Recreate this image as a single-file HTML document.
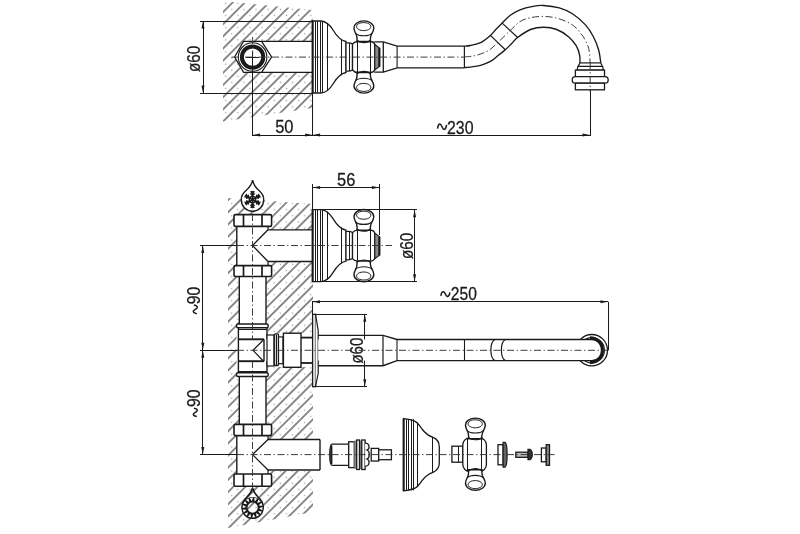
<!DOCTYPE html>
<html><head><meta charset="utf-8"><style>
html,body{margin:0;padding:0;background:#fff;width:800px;height:534px;overflow:hidden}
svg{display:block;will-change:transform}
text{font-family:"Liberation Sans",sans-serif;fill:#1a1a1a;stroke:#1a1a1a;stroke-width:0.3}
.cl{stroke:#333;stroke-width:0.95;stroke-dasharray:7 2.6 1.3 2.6}
</style></head><body>
<svg width="800" height="534" viewBox="0 0 800 534" stroke="#1a1a1a" fill="none">
<defs>
<pattern id="hatchA" patternUnits="userSpaceOnUse" width="8.6" height="8.6" patternTransform="translate(0.7,3.32) rotate(-45)">
<line x1="-1" y1="0" x2="10" y2="0" stroke="#000" stroke-width="0.9"/>
<line x1="-1" y1="8.6" x2="10" y2="8.6" stroke="#000" stroke-width="0.9"/>
<circle cx="4.3" cy="4.3" r="0.7" fill="#999" stroke="none"/>
</pattern>
<pattern id="hatchB" patternUnits="userSpaceOnUse" width="8.6" height="8.6" patternTransform="translate(0.08,2.42) rotate(-45)">
<line x1="-1" y1="0" x2="10" y2="0" stroke="#000" stroke-width="0.9"/>
<line x1="-1" y1="8.6" x2="10" y2="8.6" stroke="#000" stroke-width="0.9"/>
<circle cx="4.3" cy="4.94" r="0.7" fill="#999" stroke="none"/>
</pattern>
</defs>
<polygon points="223,1 312.6,10 312.6,108 223,121.5" fill="url(#hatchA)" stroke="none"/>
<polygon points="234.6,57 243.6,41.3 312.6,41.3 312.6,72.4 243.6,72.4" fill="#fff" stroke="none"/>
<polygon points="228,198 313,204 313,512 228,528" fill="url(#hatchB)" stroke="none"/>
<rect x="236.8" y="214" width="31.2" height="62.5" fill="#fff" stroke="none"/>
<rect x="239.3" y="276" width="26.7" height="48.5" fill="#fff" stroke="none"/>
<rect x="236.5" y="324" width="31.7" height="53" fill="#fff" stroke="none"/>
<rect x="239.3" y="376.5" width="26.7" height="48.5" fill="#fff" stroke="none"/>
<rect x="236.8" y="424" width="31.2" height="62.5" fill="#fff" stroke="none"/>
<rect x="268" y="230" width="45" height="32" fill="#fff" stroke="none"/>
<rect x="265" y="333" width="48" height="34" fill="#fff" stroke="none"/>
<rect x="268" y="439" width="45" height="32" fill="#fff" stroke="none"/>
<path d="M312.6,21 L321,21 C327,21.5 330,25 333,30 C336,35 340,40.5 346,41.5 L346,72.5 C340,73.5 336,79 333,84 C330,89 327,92.5 321,93 L312.6,93 Z" stroke-width="1.3" fill="#fff" />
<line x1="312.6" y1="20.5" x2="312.6" y2="93.5" stroke-width="2.0"/>
<line x1="315.5" y1="21.5" x2="315.5" y2="92.5" stroke-width="1.0"/>
<line x1="317.5" y1="21.5" x2="317.5" y2="92.5" stroke-width="1.0"/>
<line x1="320.5" y1="21.5" x2="320.5" y2="92.5" stroke-width="1.0"/>
<line x1="322.5" y1="21.5" x2="322.5" y2="92.5" stroke-width="1.0"/>
<line x1="327.5" y1="23" x2="327.5" y2="91" stroke-width="1.0"/>
<line x1="341.5" y1="38.8" x2="341.5" y2="75.2" stroke-width="1.0"/>
<path d="M346,43 C349,42.5 351,43 352.5,44 L352.5,70 C351,71 349,71.5 346,71 Z" stroke-width="1.2" fill="#fff" />
<line x1="349.5" y1="43" x2="349.5" y2="71" stroke-width="1.0"/>
<path d="M352.5,44 C354,42 356,41.5 358,41.5 L370,41.5 C372.5,41.5 374.3,42.5 374.8,44.5 L374.8,69.5 C374.3,71.5 372.5,72.5 370,72.5 L358,72.5 C356,72.5 354,72 352.5,70 Z" stroke-width="1.3" fill="#fff" />
<line x1="357.5" y1="42" x2="357.5" y2="72" stroke-width="1.0"/>
<line x1="370.5" y1="42" x2="370.5" y2="72" stroke-width="1.0"/>
<path d="M374.8,44.5 L379.8,48.3 L379.8,66.3 L374.8,70 Z" stroke-width="1.1" fill="#8a8a8a" />
<line x1="379.2" y1="48" x2="379.2" y2="66.6" stroke-width="1.9"/>
<path d="M354,28.2 C354,24 358.5,20.9 363.9,20.9 C369.3,20.9 373.8,24 373.8,28.2 C373.7,30.8 372.2,33.2 371,35.4 C370.3,37.5 370.2,39.5 370.4,41.5 L357,41.5 C357.2,39.5 357.1,37.5 356.6,35.4 C355.6,33.2 354.1,30.8 354,28.2 Z" stroke-width="1.4" fill="#fff" />
<path d="M356.6,26.6 C356.6,24.2 359.8,22.6 363.7,22.6 C367.6,22.6 370.8,24.2 370.8,26.6 C370.8,29 367.6,30.6 363.7,30.6 C359.8,30.6 356.6,29 356.6,26.6 Z" stroke-width="1.0" fill="none" />
<path d="M355.6,33.4 C359,36.6 368.5,36.6 371.9,33.4" stroke-width="1.1" fill="none" />
<path d="M357,40.2 C360,43.4 367.5,43.4 370.4,40.2" stroke-width="1.1" fill="none" />
<path d="M354,85.8 C354,90 358.5,93.1 363.9,93.1 C369.3,93.1 373.8,90 373.8,85.8 C373.7,83.2 372.2,80.8 371,78.6 C370.3,76.5 370.2,74.5 370.4,72.5 L357,72.5 C357.2,74.5 357.1,76.5 356.6,78.6 C355.6,80.8 354.1,83.2 354,85.8 Z" stroke-width="1.4" fill="#fff" />
<path d="M356.6,87.4 C356.6,89.8 359.8,91.4 363.7,91.4 C367.6,91.4 370.8,89.8 370.8,87.4 C370.8,85 367.6,83.4 363.7,83.4 C359.8,83.4 356.6,85 356.6,87.4 Z" stroke-width="1.0" fill="none" />
<path d="M355.6,80.6 C359,77.4 368.5,77.4 371.9,80.6" stroke-width="1.1" fill="none" />
<path d="M357,73.8 C360,70.6 367.5,70.6 370.4,73.8" stroke-width="1.1" fill="none" />
<path d="M312.6,209.6 L321,209.6 C327,210.1 330,213.6 333,218.6 C336,223.6 340,229.1 346,230.1 L346,261.1 C340,262.1 336,267.6 333,272.6 C330,277.6 327,281.1 321,281.6 L312.6,281.6 Z" stroke-width="1.3" fill="#fff" />
<line x1="312.6" y1="209.1" x2="312.6" y2="282.1" stroke-width="2.0"/>
<line x1="315.5" y1="210.1" x2="315.5" y2="281.1" stroke-width="1.0"/>
<line x1="317.5" y1="210.1" x2="317.5" y2="281.1" stroke-width="1.0"/>
<line x1="320.5" y1="210.1" x2="320.5" y2="281.1" stroke-width="1.0"/>
<line x1="322.5" y1="210.1" x2="322.5" y2="281.1" stroke-width="1.0"/>
<line x1="327.5" y1="211.6" x2="327.5" y2="279.6" stroke-width="1.0"/>
<line x1="341.5" y1="227.4" x2="341.5" y2="263.8" stroke-width="1.0"/>
<path d="M346,231.6 C349,231.1 351,231.6 352.5,232.6 L352.5,258.6 C351,259.6 349,260.1 346,259.6 Z" stroke-width="1.2" fill="#fff" />
<line x1="349.5" y1="231.6" x2="349.5" y2="259.6" stroke-width="1.0"/>
<path d="M352.5,232.6 C354,230.6 356,230.1 358,230.1 L370,230.1 C372.5,230.1 374.3,231.1 374.8,233.1 L374.8,258.1 C374.3,260.1 372.5,261.1 370,261.1 L358,261.1 C356,261.1 354,260.6 352.5,258.6 Z" stroke-width="1.3" fill="#fff" />
<line x1="357.5" y1="230.6" x2="357.5" y2="260.6" stroke-width="1.0"/>
<line x1="370.5" y1="230.6" x2="370.5" y2="260.6" stroke-width="1.0"/>
<path d="M374.8,233.1 L379.8,236.9 L379.8,254.9 L374.8,258.6 Z" stroke-width="1.1" fill="#8a8a8a" />
<line x1="379.2" y1="236.6" x2="379.2" y2="255.2" stroke-width="1.9"/>
<path d="M354,216.8 C354,212.6 358.5,209.5 363.9,209.5 C369.3,209.5 373.8,212.6 373.8,216.8 C373.7,219.4 372.2,221.8 371,224.0 C370.3,226.1 370.2,228.1 370.4,230.1 L357,230.1 C357.2,228.1 357.1,226.1 356.6,224.0 C355.6,221.8 354.1,219.4 354,216.8 Z" stroke-width="1.4" fill="#fff" />
<path d="M356.6,215.2 C356.6,212.8 359.8,211.2 363.7,211.2 C367.6,211.2 370.8,212.8 370.8,215.2 C370.8,217.6 367.6,219.2 363.7,219.2 C359.8,219.2 356.6,217.6 356.6,215.2 Z" stroke-width="1.0" fill="none" />
<path d="M355.6,222.0 C359,225.2 368.5,225.2 371.9,222.0" stroke-width="1.1" fill="none" />
<path d="M357,228.8 C360,232.0 367.5,232.0 370.4,228.8" stroke-width="1.1" fill="none" />
<path d="M354,274.4 C354,278.6 358.5,281.7 363.9,281.7 C369.3,281.7 373.8,278.6 373.8,274.4 C373.7,271.8 372.2,269.4 371,267.2 C370.3,265.1 370.2,263.1 370.4,261.1 L357,261.1 C357.2,263.1 357.1,265.1 356.6,267.2 C355.6,269.4 354.1,271.8 354,274.4 Z" stroke-width="1.4" fill="#fff" />
<path d="M356.6,276.0 C356.6,278.4 359.8,280.0 363.7,280.0 C367.6,280.0 370.8,278.4 370.8,276.0 C370.8,273.6 367.6,272.0 363.7,272.0 C359.8,272.0 356.6,273.6 356.6,276.0 Z" stroke-width="1.0" fill="none" />
<path d="M355.6,269.2 C359,266.0 368.5,266.0 371.9,269.2" stroke-width="1.1" fill="none" />
<path d="M357,262.4 C360,259.2 367.5,259.2 370.4,262.4" stroke-width="1.1" fill="none" />
<polygon points="234.6,57 243.6,41.3 261.6,41.3 271.6,57 261.6,72.4 243.6,72.4" fill="#fff" stroke-width="1.3"/>
<line x1="261.6" y1="41.3" x2="312.6" y2="41.3" stroke-width="1.3"/>
<line x1="261.6" y1="72.4" x2="312.6" y2="72.4" stroke-width="1.3"/>
<circle cx="252.6" cy="57.1" r="14.3" stroke-width="1.1" fill="#fff"/>
<circle cx="252.6" cy="57.1" r="10.7" stroke-width="4" fill="#fff"/>
<line x1="246.3" y1="57.5" x2="258.9" y2="57.5" stroke-width="1.0"/>
<line x1="252.5" y1="51.3" x2="252.5" y2="62.9" stroke-width="1.0"/>
<path d="M374.3,41.9 L383.3,41.9 L397.1,46.2 L464.5,46.2 M374.3,72.2 L383.3,72.2 L397.1,67.8 L464.5,67.8" stroke-width="1.3" fill="none" />
<line x1="383.3" y1="41.9" x2="383.3" y2="72.2" stroke-width="1.3"/>
<line x1="397.1" y1="46.2" x2="397.1" y2="67.8" stroke-width="1.1"/>
<line x1="464.4" y1="46.2" x2="464.4" y2="67.8" stroke-width="1.2"/>
<path d="M464.3,46.2 C465.30,46.08 467.58,46.10 470.30,45.50 C473.02,44.90 477.25,44.28 480.60,42.60 C483.95,40.92 487.83,37.62 490.40,35.40 C492.97,33.18 494.03,31.35 496.00,29.30 C497.97,27.25 499.87,25.40 502.20,23.10 C504.53,20.80 507.03,17.72 510.00,15.50 C512.97,13.28 516.15,11.33 520.00,9.80 C523.85,8.27 529.17,7.02 533.10,6.30 C537.03,5.58 539.23,5.23 543.60,5.50 C547.97,5.77 554.50,6.52 559.30,7.90 C564.10,9.28 568.03,10.97 572.40,13.80 C576.77,16.63 582.00,21.08 585.50,24.90 C589.00,28.72 591.22,32.55 593.40,36.70 C595.58,40.85 597.37,45.43 598.60,49.80 C599.83,54.17 600.43,60.72 600.80,62.90" stroke-width="1.35" fill="none" />
<path d="M464.3,67.5 C465.30,67.43 467.58,67.47 470.30,67.10 C473.02,66.73 477.17,66.28 480.60,65.30 C484.03,64.32 487.98,62.83 490.90,61.20 C493.82,59.57 495.70,57.40 498.10,55.50 C500.50,53.60 503.07,51.77 505.30,49.80 C507.53,47.83 509.45,45.75 511.50,43.70 C513.55,41.65 514.43,39.87 517.60,37.50 C520.77,35.13 526.17,31.22 530.50,29.50 C534.83,27.78 539.23,27.20 543.60,27.20 C547.97,27.20 552.55,27.92 556.70,29.50 C560.85,31.08 565.23,33.97 568.50,36.70 C571.77,39.43 574.45,42.85 576.30,45.90 C578.15,48.95 578.98,52.17 579.60,55.00 C580.22,57.83 579.93,61.58 580.00,62.90" stroke-width="1.35" fill="none" />
<line x1="490.4" y1="35.4" x2="505.3" y2="49.8" stroke-width="1.2"/>
<line x1="502.2" y1="23.1" x2="517.6" y2="37.5" stroke-width="1.2"/>
<line x1="580" y1="62.9" x2="600.8" y2="62.9" stroke-width="1.2"/>
<path d="M580,62.9 L578,66.4 L602.5,66.4 L600.8,62.9" stroke-width="1.2" fill="none" />
<path d="M578,66.4 L577,70.1 L603.5,70.1 L602.5,66.4" stroke-width="1.2" fill="none" />
<rect x="575.4" y="70.1" width="29.1" height="6.6" rx="0" stroke-width="1.3" fill="#fff" />
<rect x="572.2" y="76.7" width="36" height="6.5" rx="3.2" stroke-width="1.3" fill="#fff" />
<rect x="575.4" y="83.2" width="29.1" height="6.6" rx="0" stroke-width="1.3" fill="#fff" />
<line x1="200" y1="21.5" x2="312.6" y2="21.5" stroke-width="1.0"/>
<line x1="200" y1="93.5" x2="312.6" y2="93.5" stroke-width="1.0"/>
<line x1="203.5" y1="21" x2="203.5" y2="93" stroke-width="1.0"/>
<polygon points="203,21 201.5,28.5 204.5,28.5" fill="#1a1a1a" stroke="none"/>
<polygon points="203,93 201.5,85.5 204.5,85.5" fill="#1a1a1a" stroke="none"/>
<text x="200.4" y="72.00" font-size="19" transform="rotate(-90 200.4 72.00)" textLength="26.40" lengthAdjust="spacingAndGlyphs">ø60</text>
<line x1="252.5" y1="57" x2="252.5" y2="136" stroke-width="1.0"/>
<line x1="312.5" y1="93" x2="312.5" y2="136" stroke-width="1.0"/>
<line x1="590.5" y1="90" x2="590.5" y2="136" stroke-width="1.0"/>
<line x1="252.6" y1="135.5" x2="590" y2="135.5" stroke-width="1.0"/>
<polygon points="252.6,135 260.1,133.5 260.1,136.5" fill="#1a1a1a" stroke="none"/>
<polygon points="312.6,135 305.1,133.5 305.1,136.5" fill="#1a1a1a" stroke="none"/>
<polygon points="312.6,135 320.1,133.5 320.1,136.5" fill="#1a1a1a" stroke="none"/>
<polygon points="590,135 582.5,133.5 582.5,136.5" fill="#1a1a1a" stroke="none"/>
<text x="275.20" y="133" font-size="19" textLength="18.30" lengthAdjust="spacingAndGlyphs">50</text>
<text x="447.00" y="133.5" font-size="19" textLength="26.50" lengthAdjust="spacingAndGlyphs">230</text>
<path d="M437.50,128.70 C437.95,124.80 439.30,123.50 440.47,124.28 C441.55,125.12 442.45,128.38 443.53,129.22 C444.70,130.00 446.05,128.70 446.50,124.80" stroke-width="1.5" fill="none" />
<line x1="236.8" y1="226.4" x2="236.8" y2="265.6" stroke-width="1.4"/>
<path d="M268,229.8 L252.5,245.5 L268,261.5" stroke-width="1.3" fill="none" />
<line x1="268" y1="229.8" x2="312.6" y2="229.8" stroke-width="1.3"/>
<line x1="268" y1="261.5" x2="312.6" y2="261.5" stroke-width="1.3"/>
<line x1="268" y1="226.4" x2="268" y2="229.8" stroke-width="1.2"/>
<line x1="268" y1="261.5" x2="268" y2="265.6" stroke-width="1.2"/>
<rect x="234" y="214.6" width="37.6" height="11.800000000000011" rx="1.5" stroke-width="1.6" fill="#fff" />
<line x1="243.5" y1="214.6" x2="243.5" y2="226.4" stroke-width="1.7"/>
<line x1="262" y1="214.6" x2="262" y2="226.4" stroke-width="1.7"/>
<rect x="234" y="265.6" width="37.6" height="10.899999999999977" rx="1.5" stroke-width="1.6" fill="#fff" />
<line x1="243.5" y1="265.6" x2="243.5" y2="276.5" stroke-width="1.7"/>
<line x1="262" y1="265.6" x2="262" y2="276.5" stroke-width="1.7"/>
<rect x="234" y="424.4" width="37.6" height="11.200000000000045" rx="1.5" stroke-width="1.6" fill="#fff" />
<line x1="243.5" y1="424.4" x2="243.5" y2="435.6" stroke-width="1.7"/>
<line x1="262" y1="424.4" x2="262" y2="435.6" stroke-width="1.7"/>
<rect x="234" y="474" width="37.6" height="12.199999999999989" rx="1.5" stroke-width="1.6" fill="#fff" />
<line x1="243.5" y1="474" x2="243.5" y2="486.2" stroke-width="1.7"/>
<line x1="262" y1="474" x2="262" y2="486.2" stroke-width="1.7"/>
<line x1="239.3" y1="276.5" x2="239.3" y2="324" stroke-width="1.4"/>
<line x1="266" y1="276.5" x2="266" y2="324" stroke-width="1.4"/>
<line x1="239.3" y1="376.6" x2="239.3" y2="424.4" stroke-width="1.4"/>
<line x1="266" y1="376.6" x2="266" y2="424.4" stroke-width="1.4"/>
<rect x="236.5" y="324" width="31.7" height="3.7" rx="1.5" stroke-width="1.4" fill="#fff" />
<rect x="236.5" y="372.8" width="31.7" height="3.7" rx="1.5" stroke-width="1.4" fill="#fff" />
<line x1="238.4" y1="327.7" x2="238.4" y2="372.8" stroke-width="1.4"/>
<line x1="267" y1="327.7" x2="267" y2="339.3" stroke-width="1.4"/>
<line x1="267" y1="361.2" x2="267" y2="372.8" stroke-width="1.4"/>
<line x1="238.4" y1="329.5" x2="267" y2="329.5" stroke-width="1.0"/>
<line x1="238.4" y1="371.5" x2="267" y2="371.5" stroke-width="1.0"/>
<line x1="238.4" y1="339.3" x2="264" y2="339.3" stroke-width="1.9"/>
<line x1="238.4" y1="361.2" x2="264" y2="361.2" stroke-width="1.9"/>
<line x1="264" y1="339.3" x2="264" y2="361.2" stroke-width="1.4"/>
<path d="M263.3,340 L253,350.3 L263.3,361" stroke-width="1.2" fill="none" />
<rect x="267" y="335" width="7" height="31" rx="0" stroke-width="1.2" fill="#fff" />
<rect x="274.3" y="333.8" width="4.2" height="31.7" rx="1" stroke-width="1.3" fill="#fff" />
<line x1="276.4" y1="334.5" x2="276.4" y2="365" stroke-width="1.2"/>
<rect x="278.5" y="336.9" width="4.5" height="26.8" rx="0" stroke-width="1.2" fill="#fff" />
<rect x="283.4" y="333.2" width="17.6" height="34.1" rx="0" stroke-width="1.4" fill="#fff" />
<line x1="301" y1="337.6" x2="312.6" y2="337.6" stroke-width="1.8"/>
<line x1="301" y1="363" x2="312.6" y2="363" stroke-width="1.8"/>
<line x1="236.8" y1="435.6" x2="236.8" y2="474" stroke-width="1.4"/>
<path d="M268,439.5 L252.5,454.6 L268,470" stroke-width="1.3" fill="none" />
<line x1="268" y1="439.5" x2="320" y2="439.5" stroke-width="1.3"/>
<line x1="268" y1="470" x2="320" y2="470" stroke-width="1.3"/>
<line x1="320" y1="439.5" x2="320" y2="470" stroke-width="1.4"/>
<line x1="268" y1="435.6" x2="268" y2="439.5" stroke-width="1.2"/>
<line x1="268" y1="470" x2="268" y2="474" stroke-width="1.2"/>
<line x1="200" y1="245.5" x2="237" y2="245.5" stroke-width="1.0"/>
<line x1="200" y1="350.5" x2="238" y2="350.5" stroke-width="1.0"/>
<line x1="200" y1="454.5" x2="237" y2="454.5" stroke-width="1.0"/>
<line x1="202.5" y1="245.5" x2="202.5" y2="454.6" stroke-width="1.0"/>
<polygon points="202.8,245.5 201.3,253.0 204.3,253.0" fill="#1a1a1a" stroke="none"/>
<polygon points="202.8,350.3 201.3,342.8 204.3,342.8" fill="#1a1a1a" stroke="none"/>
<polygon points="202.8,350.3 201.3,357.8 204.3,357.8" fill="#1a1a1a" stroke="none"/>
<polygon points="202.8,454.6 201.3,447.1 204.3,447.1" fill="#1a1a1a" stroke="none"/>
<text x="200.4" y="304.30" font-size="19" transform="rotate(-90 200.4 304.30)" textLength="17.50" lengthAdjust="spacingAndGlyphs">90</text>
<path d="M196.78,313.75 C193.87,313.32 192.90,312.02 193.48,310.90 C194.11,309.86 196.54,308.99 197.17,307.95 C197.75,306.83 196.78,305.53 193.87,305.10" stroke-width="1.5" fill="none" />
<text x="200.4" y="407.10" font-size="19" transform="rotate(-90 200.4 407.10)" textLength="17.50" lengthAdjust="spacingAndGlyphs">90</text>
<path d="M196.78,416.50 C193.87,416.09 192.90,414.85 193.48,413.78 C194.11,412.79 196.54,411.96 197.17,410.97 C197.75,409.90 196.78,408.66 193.87,408.25" stroke-width="1.5" fill="none" />
<line x1="312.5" y1="184" x2="312.5" y2="210" stroke-width="1.0"/>
<line x1="379.5" y1="184" x2="379.5" y2="235" stroke-width="1.0"/>
<line x1="312.6" y1="187.5" x2="379.3" y2="187.5" stroke-width="1.0"/>
<polygon points="312.6,187.5 320.1,186.0 320.1,189.0" fill="#1a1a1a" stroke="none"/>
<polygon points="379.3,187.5 371.8,186.0 371.8,189.0" fill="#1a1a1a" stroke="none"/>
<text x="337.00" y="185.8" font-size="19" textLength="18.30" lengthAdjust="spacingAndGlyphs">56</text>
<line x1="320" y1="209.5" x2="417" y2="209.5" stroke-width="1.0"/>
<line x1="320" y1="281.5" x2="417" y2="281.5" stroke-width="1.0"/>
<line x1="414.5" y1="209.7" x2="414.5" y2="281.7" stroke-width="1.0"/>
<polygon points="414.6,209.7 413.1,217.2 416.1,217.2" fill="#1a1a1a" stroke="none"/>
<polygon points="414.6,281.7 413.1,274.2 416.1,274.2" fill="#1a1a1a" stroke="none"/>
<text x="413" y="259.00" font-size="19" transform="rotate(-90 413 259.00)" textLength="26.40" lengthAdjust="spacingAndGlyphs">ø60</text>
<line x1="312.5" y1="301" x2="312.5" y2="314.3" stroke-width="1.0"/>
<line x1="312.5" y1="301.5" x2="608" y2="301.5" stroke-width="1.0"/>
<polygon points="312.5,301.8 320.0,300.3 320.0,303.3" fill="#1a1a1a" stroke="none"/>
<polygon points="608,301.8 600.5,300.3 600.5,303.3" fill="#1a1a1a" stroke="none"/>
<line x1="608.5" y1="301.8" x2="608.5" y2="350" stroke-width="1.0"/>
<text x="450.80" y="299.9" font-size="19" textLength="26.00" lengthAdjust="spacingAndGlyphs">250</text>
<path d="M440.90,295.78 C441.35,292.42 442.70,291.30 443.87,291.97 C444.95,292.70 445.85,295.50 446.93,296.23 C448.10,296.90 449.45,295.78 449.90,292.42" stroke-width="1.5" fill="none" />
<rect x="312.6" y="314.3" width="2.9" height="72.4" rx="0" stroke-width="1.3" fill="#fff" />
<path d="M315.5,314.3 L318.2,330.3 L318.2,373.3 L315.5,386.7" stroke-width="1.2" fill="#fff" />
<line x1="315.5" y1="314.5" x2="367" y2="314.5" stroke-width="1.0"/>
<line x1="315.5" y1="386.5" x2="367" y2="386.5" stroke-width="1.0"/>
<line x1="364.5" y1="314.3" x2="364.5" y2="386.7" stroke-width="1.0"/>
<polygon points="364.8,314.3 363.3,321.8 366.3,321.8" fill="#1a1a1a" stroke="none"/>
<polygon points="364.8,386.7 363.3,379.2 366.3,379.2" fill="#1a1a1a" stroke="none"/>
<circle cx="591.8" cy="350.2" r="15.7" stroke-width="1.3" fill="#fff"/>
<circle cx="591.8" cy="350.2" r="12.6" stroke-width="1.2" fill="none"/>
<path d="M590,337.8 A12.3,12.3 0 0 1 590,362.6" stroke-width="3.2" fill="none" />
<rect x="318.2" y="339.5" width="274" height="21.1" fill="#fff" stroke="none"/>
<path d="M318.2,335.3 L383,335.3 L397,339.5 L592,339.5 A10.55,10.55 0 0 1 592,360.6 L397,360.6 L383,365.7 L318.2,365.7" stroke-width="1.35" fill="none" />
<line x1="383" y1="335.3" x2="383" y2="365.7" stroke-width="1.2"/>
<line x1="397" y1="339.5" x2="397" y2="360.6" stroke-width="1.1"/>
<line x1="464.5" y1="339.5" x2="464.5" y2="360.6" stroke-width="1.1"/>
<path d="M495,339.5 C489.5,342 489.5,358 495,360.6" stroke-width="1.2" fill="none" />
<path d="M505.5,339.5 C500,342 500,358 505.5,360.6" stroke-width="1.2" fill="none" />
<text x="363" y="363.60" font-size="19" transform="rotate(-90 363 363.60)" textLength="26.00" lengthAdjust="spacingAndGlyphs">ø60</text>
<path d="M332,444.2 L348.7,444.2 L348.7,465.3 L332,465.3 C329,465 329,444.5 332,444.2 Z" stroke-width="1.3" fill="#fff" />
<line x1="331.3" y1="445.5" x2="331.3" y2="464" stroke-width="2.2"/>
<rect x="348.7" y="441.8" width="5.6" height="25.8" rx="0" stroke-width="1.3" fill="#fff" />
<rect x="354.3" y="440.5" width="11" height="28.5" fill="#888" stroke="none"/>
<rect x="356.7" y="440" width="2.8" height="29.5" rx="0" stroke-width="1.3" fill="#fff" />
<rect x="361.8" y="440" width="3.3" height="29.5" rx="0" stroke-width="1.3" fill="#fff" />
<path d="M365.1,443.2 C370,443.2 370,449 367,450 C370,451 370,458 367,459 C370,460 370,466.2 365.1,466.2" stroke-width="1.3" fill="#fff" />
<rect x="371.2" y="448.4" width="7.5" height="12.6" rx="0" stroke-width="1.3" fill="#fff" />
<rect x="378.7" y="449.8" width="12.7" height="9.9" rx="0" stroke-width="1.3" fill="#fff" />
<path d="M403.6,418.7 C408,419.2 412,420 415,421.4 C418,423 420,426 422,429 C425,433 429,436 433,437.3 C437,438.8 439.3,442 439.3,447 L439.3,462.6 C439.3,467.6 437,470.8 433,472.3 C429,473.6 425,476.6 422,480.6 C420,483.6 418,486.6 415,488.2 C412,489.6 408,490.4 403.6,490.9 Z" stroke-width="1.3" fill="#fff" />
<line x1="403.6" y1="418.5" x2="403.6" y2="491" stroke-width="2.0"/>
<line x1="406.5" y1="419.2" x2="406.5" y2="490.4" stroke-width="1.0"/>
<line x1="408.5" y1="419.2" x2="408.5" y2="490.4" stroke-width="1.0"/>
<line x1="411.5" y1="419.2" x2="411.5" y2="490.4" stroke-width="1.0"/>
<line x1="413.5" y1="419.2" x2="413.5" y2="490.4" stroke-width="1.0"/>
<line x1="417.5" y1="422.5" x2="417.5" y2="487" stroke-width="1.0"/>
<line x1="432.5" y1="437" x2="432.5" y2="472.6" stroke-width="1.0"/>
<rect x="451.9" y="446.2" width="11" height="16" rx="0" stroke-width="1.3" fill="#fff" />
<line x1="458.5" y1="446.2" x2="458.5" y2="462.2" stroke-width="1.0"/>
<rect x="462.8" y="437.8" width="23.6" height="33.7" rx="7" stroke-width="1.3" fill="#fff" />
<line x1="467.5" y1="438.5" x2="467.5" y2="471" stroke-width="1.0"/>
<line x1="481.5" y1="438.5" x2="481.5" y2="471" stroke-width="1.0"/>
<path d="M465.5,425.4 C465.5,421.2 470.0,418.1 475.4,418.1 C480.8,418.1 485.3,421.2 485.3,425.4 C485.2,428.0 483.7,430.4 482.5,432.6 C481.8,434.7 481.7,436.7 481.9,438.7 L468.5,438.7 C468.7,436.7 468.6,434.7 468.1,432.6 C467.1,430.4 465.6,428.0 465.5,425.4 Z" stroke-width="1.4" fill="#fff" />
<path d="M468.1,423.8 C468.1,421.4 471.3,419.8 475.2,419.8 C479.1,419.8 482.3,421.4 482.3,423.8 C482.3,426.2 479.1,427.8 475.2,427.8 C471.3,427.8 468.1,426.2 468.1,423.8 Z" stroke-width="1.0" fill="none" />
<path d="M467.1,430.6 C470.5,433.8 480.0,433.8 483.4,430.6" stroke-width="1.1" fill="none" />
<path d="M468.5,437.4 C471.5,440.6 479.0,440.6 481.9,437.4" stroke-width="1.1" fill="none" />
<path d="M465.5,483.0 C465.5,487.2 470.0,490.3 475.4,490.3 C480.8,490.3 485.3,487.2 485.3,483.0 C485.2,480.4 483.7,478.0 482.5,475.8 C481.8,473.7 481.7,471.7 481.9,469.7 L468.5,469.7 C468.7,471.7 468.6,473.7 468.1,475.8 C467.1,478.0 465.6,480.4 465.5,483.0 Z" stroke-width="1.4" fill="#fff" />
<path d="M468.1,484.6 C468.1,487.0 471.3,488.6 475.2,488.6 C479.1,488.6 482.3,487.0 482.3,484.6 C482.3,482.2 479.1,480.6 475.2,480.6 C471.3,480.6 468.1,482.2 468.1,484.6 Z" stroke-width="1.0" fill="none" />
<path d="M467.1,477.8 C470.5,474.6 480.0,474.6 483.4,477.8" stroke-width="1.1" fill="none" />
<path d="M468.5,471.0 C471.5,467.8 479.0,467.8 481.9,471.0" stroke-width="1.1" fill="none" />
<rect x="498" y="444.7" width="5.1" height="20.1" rx="0" stroke-width="1.3" fill="#fff" />
<path d="M503.1,442.3 L505,442.3 C507.8,444 507.8,465.5 505,467.2 L503.1,467.2 Z" stroke-width="1.2" fill="#666" />
<rect x="515.8" y="452.2" width="12.2" height="5.1" rx="0" stroke-width="1.3" fill="#bbb" />
<path d="M528,449.3 L530,449.3 C533,451 533,458 530,459.7 L528,459.7 Z" stroke-width="1.2" fill="#333" />
<rect x="541.4" y="448" width="4.8" height="13.8" rx="0" stroke-width="1.3" fill="#fff" />
<rect x="546.2" y="444.7" width="3.3" height="20.6" rx="0" stroke-width="1.3" fill="#888" />
<path d="M252.6,180.2 C253.5,185 256,188 259,190.5 C262.5,193.5 263.9,196.5 263.7,200 A11.2,11.2 0 1 1 241.3,200 C241.1,196.5 242.5,193.5 246,190.5 C249,188 251.7,185 252.6,180.2 Z" fill="#fff" stroke-width="1.4"/>
<path d="M252.5,199.6 L252.50,191.00 M252.50,195.73 L250.44,193.28 M252.50,195.73 L254.56,193.28 M252.50,193.41 L250.70,191.26 M252.50,193.41 L254.30,191.26 M252.5,199.6 L245.05,195.30 M249.15,197.66 L246.00,198.22 M249.15,197.66 L248.05,194.66 M247.14,196.50 L244.38,196.99 M247.14,196.50 L246.18,193.87 M252.5,199.6 L245.05,203.90 M249.15,201.53 L248.05,204.54 M249.15,201.53 L246.00,200.98 M247.14,202.70 L246.18,205.33 M247.14,202.70 L244.38,202.21 M252.5,199.6 L252.50,208.20 M252.50,203.47 L254.56,205.92 M252.50,203.47 L250.44,205.92 M252.50,205.79 L254.30,207.94 M252.50,205.79 L250.70,207.94 M252.5,199.6 L259.95,203.90 M255.85,201.53 L259.00,200.98 M255.85,201.53 L256.95,204.54 M257.86,202.70 L260.62,202.21 M257.86,202.70 L258.82,205.33 M252.5,199.6 L259.95,195.30 M255.85,197.66 L256.95,194.66 M255.85,197.66 L259.00,198.22 M257.86,196.50 L258.82,193.87 M257.86,196.50 L260.62,196.99" stroke-width="1.35" fill="none"/>
<circle cx="252.5" cy="199.6" r="3.2" fill="none" stroke-width="1.5"/>
<circle cx="252.5" cy="199.6" r="1.6" fill="#1a1a1a" stroke="none"/>
<path d="M252.6,488 C253.5,492 256,495 258,497 C261.5,500 263.3,503 263.2,507.6 A10.6,10.6 0 1 1 242,507.6 C241.9,503 243.7,500 247,497 C249,495 251.7,492 252.6,488 Z" fill="none" stroke-width="1.6"/>
<circle cx="252.6" cy="507.6" r="7.9" stroke="#1a1a1a" stroke-width="5.6" fill="none"/>
<path d="M262.59,507.08 L258.96,508.27 L262.26,510.19 Z M261.82,511.46 L258.04,510.96 L260.18,514.12 Z M259.24,515.08 L256.05,512.99 L256.60,516.77 Z M255.33,517.22 L253.36,513.95 L252.23,517.59 Z M250.89,517.45 L250.53,513.66 L247.93,516.44 Z M246.78,515.73 L248.11,512.16 L244.55,513.54 Z M243.83,512.40 L246.58,509.76 L242.77,509.46 Z M242.61,508.12 L246.24,506.93 L242.94,505.01 Z M243.38,503.74 L247.16,504.24 L245.02,501.08 Z M245.96,500.12 L249.15,502.21 L248.60,498.43 Z M249.87,497.98 L251.84,501.25 L252.97,497.61 Z M254.31,497.75 L254.67,501.54 L257.27,498.76 Z M258.42,499.47 L257.09,503.04 L260.65,501.66 Z M261.37,502.80 L258.62,505.44 L262.43,505.74 Z" fill="#fff" stroke="none"/>
<path d="M464.3,56.9 C465.58,56.78 469.28,56.68 472.00,56.20 C474.72,55.72 477.45,55.23 480.60,54.00 C483.75,52.77 486.10,52.58 490.90,48.80 C495.70,45.02 504.55,35.83 509.40,31.30 C514.25,26.77 516.57,23.85 520.00,21.60 C523.43,19.35 526.07,18.67 530.00,17.80 C533.93,16.93 538.93,16.28 543.60,16.40 C548.27,16.52 553.20,17.08 558.00,18.50 C562.80,19.92 568.40,22.15 572.40,24.90 C576.40,27.65 579.48,31.65 582.00,35.00 C584.52,38.35 586.27,42.10 587.50,45.00 C588.73,47.90 588.97,49.42 589.40,52.40 C589.83,55.38 589.98,61.15 590.10,62.90" class="cl" fill="none"/>
<line x1="231.5" y1="57.1" x2="464.5" y2="57.1" class="cl"/>
<line x1="590.2" y1="62.6" x2="590.2" y2="92" class="cl"/>
<line x1="252.6" y1="37" x2="252.6" y2="57" class="cl"/>
<line x1="252.5" y1="214" x2="252.5" y2="340" class="cl"/>
<line x1="252.5" y1="361" x2="252.5" y2="490" class="cl"/>
<line x1="237" y1="245.5" x2="392" y2="245.5" class="cl"/>
<line x1="237" y1="350.3" x2="610" y2="350.3" class="cl"/>
<line x1="237" y1="454.6" x2="556" y2="454.6" class="cl"/>
</svg>
</body></html>
